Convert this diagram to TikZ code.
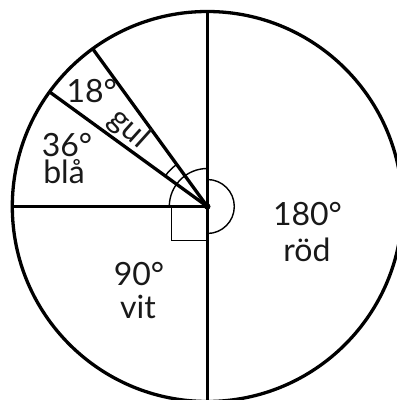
\documentclass[tikz,border=0pt]{standalone}
\usepackage{fontspec}
\setmainfont{Lato}
\usetikzlibrary{calc}
\begin{document}
\begin{tikzpicture}[x=1pt,y=1pt,
  thick line/.style={line width=3.3pt, line cap=butt},
  thin arc/.style={line width=1.4pt},
  lbl/.style={font=\fontsize{32}{36}\selectfont, anchor=base, inner sep=0pt, text=black!90}]
\useasboundingbox (0,0) rectangle (397,400);
\clip (0,0) rectangle (397,400);
\coordinate (C) at (207.3,193.5);
\def\R{195}
\coordinate (T) at ($(C)+(90:\R)$);
\coordinate (B) at ($(C)+(270:\R+5)$);
\coordinate (L) at ($(C)+(180:\R)$);
\coordinate (P1) at ($(C)+(144:\R)$);
\coordinate (P2) at ($(C)+(126:\R)$);
% angle marks
\draw[thin arc] ($(C)+(90:38)$) arc[start angle=90, end angle=180, radius=38];
\draw[thin arc] ($(C)+(126:52)$) arc[start angle=126, end angle=144, radius=52];
\draw[thin arc] ($(C)+(90:27)$) arc[start angle=90, end angle=-90, radius=27];
\draw[thin arc] ($(C)+(-36,0)$) -- ($(C)+(-36,-34)$) -- ($(C)+(0,-34)$);
% circle and radii
\draw[thick line] (C) circle[radius=\R];
\draw[thick line] (T) -- (B);
\draw[thick line] (C) -- (L);
\draw[thick line] (C) -- (P1);
\draw[thick line] (C) -- (P2);
\fill (C) circle[radius=3.2];
% labels
\node[lbl] (n180) at (307.5,175) {180°};
\node[lbl] (nrod) at (307,138.3) {röd};
\node[lbl] (n90) at (139,114) {90°};
\node[lbl] (nvit) at (138,81.7) {vit};
\node[lbl] (n36) at (67,243.3) {36°};
\node[lbl] (nbla) at (64,216) {blå};
\node[lbl] (n18) at (91.7,297.3) {18°};
\node[lbl, anchor=center, rotate=-42] (ngul) at (129,271) {gul};
\end{tikzpicture}
\end{document}
